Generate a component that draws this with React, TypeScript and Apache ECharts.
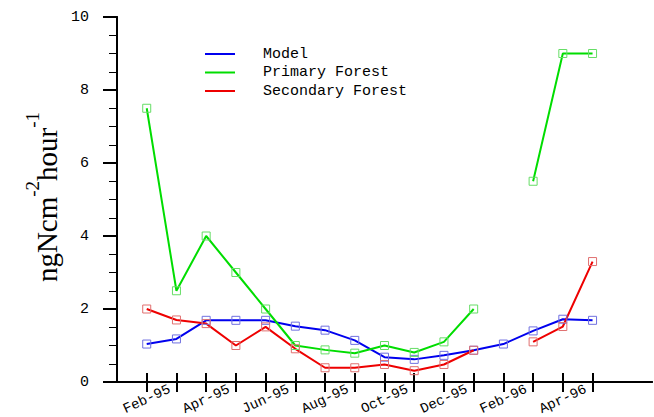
import React, { useEffect, useRef } from "react";
import * as echarts from "echarts";

const monthLabels = [
  "Feb-95", "Mar-95", "Apr-95", "May-95", "Jun-95", "Jul-95", "Aug-95", "Sep-95",
  "Oct-95", "Nov-95", "Dec-95", "Jan-96", "Feb-96", "Mar-96", "Apr-96", "May-96",
];
const modelValues = [1.04, 1.18, 1.69, 1.69, 1.69, 1.53, 1.42, 1.14, 0.68, 0.62, 0.73, 0.87, 1.04, 1.4, 1.72, 1.69];
const primaryValues: (number | null)[] = [7.5, 2.5, 4.0, 3.0, 2.0, 1.0, 0.88, 0.79, 1.0, 0.81, 1.1, 2.0, null, 5.5, 9.0, 9.0];
const secondaryValues: (number | null)[] = [2.0, 1.7, 1.6, 1.0, 1.51, 0.91, 0.39, 0.39, 0.48, 0.31, 0.48, 0.87, null, 1.1, 1.52, 3.3];

const FONT = "Liberation Mono";

function toData(vals: (number | null)[]) {
  return vals.map((v, i) => [i + 1, v === null ? "-" : v]);
}

const tickPositions = monthLabels.map((_, i) => i + 1);
const labelPositions = tickPositions.filter((_, i) => i % 2 === 0);

export default function App() {
  const ref = useRef<HTMLDivElement>(null);
  useEffect(() => {
    if (!ref.current) return;
    const chart = echarts.init(ref.current, null, { renderer: "svg" });
    const mkSeries = (name: string, vals: (number | null)[], line: string, mark: string) => ({
      name,
      type: "line",
      data: toData(vals),
      symbol: "rect",
      symbolSize: 8,
      showAllSymbol: true,
      connectNulls: false,
      lineStyle: { color: line, width: 2 },
      itemStyle: { color: "rgba(0,0,0,0)", borderColor: mark, borderWidth: 1 },
      emphasis: { disabled: true },
    });
    const legendItems = [
      { name: "Model", color: "#0000ee" },
      { name: "Primary Forest", color: "#00dd00" },
      { name: "Secondary Forest", color: "#ee0000" },
    ];
    const graphics: any[] = [];
    legendItems.forEach((it, i) => {
      const y = 54 + i * 18.5;
      graphics.push({
        type: "line",
        shape: { x1: 205, y1: y, x2: 235, y2: y },
        style: { stroke: it.color, lineWidth: 2 },
      });
      graphics.push({
        type: "text",
        x: 263,
        y,
        style: { text: it.name, font: `15px "${FONT}"`, fill: "#000", verticalAlign: "middle" },
      });
    });
    graphics.push({
      type: "text",
      x: 42,
      y: 197,
      rotation: Math.PI / 2,
      style: {
        text: "{a|ngNcm}{s|-2}{a|hour}{s|-1}",
        align: "center",
        verticalAlign: "middle",
        rich: {
          a: { fontFamily: "Liberation Serif", fontSize: 29, lineHeight: 38, verticalAlign: "bottom", fill: "#000" },
          s: { fontFamily: "Liberation Serif", fontSize: 19, lineHeight: 38, verticalAlign: "top", fill: "#000" },
        },
      },
    });
    chart.setOption({
      animation: false,
      grid: { left: 117, right: 2, top: 17, bottom: 35, containLabel: false, outerBoundsMode: "none" },
      xAxis: [
        {
          type: "value",
          min: 0,
          max: 18,
          interval: 1,
          position: "bottom",
          splitLine: { show: false },
          axisLine: { show: true, lineStyle: { color: "#000", width: 2 } },
          axisTick: { show: true, customValues: tickPositions, length: 10, inside: false, lineStyle: { color: "#000", width: 2 } },
          axisLabel: {
            show: true,
            customValues: labelPositions,
            formatter: (v: number) => monthLabels[Math.round(v) - 1] ?? "",
            rotate: 25,
            align: "center",
            verticalAlign: "middle",
            margin: 17,
            fontFamily: FONT,
            fontSize: 14,
            color: "#000",
          },
        },
        {
          type: "value",
          min: 0,
          max: 18,
          interval: 1,
          position: "top",
          splitLine: { show: false },
          axisLine: { show: true, lineStyle: { color: "#000", width: 2 } },
          axisTick: { show: true, customValues: tickPositions, length: 9, inside: false, lineStyle: { color: "#000", width: 2 } },
          axisLabel: { show: false },
        },
      ],
      yAxis: [
        {
          type: "value",
          min: 0,
          max: 10,
          interval: 2,
          position: "left",
          splitLine: { show: false },
          axisLine: { show: true, lineStyle: { color: "#000", width: 2 } },
          axisTick: { show: true, length: 14, inside: false, lineStyle: { color: "#000", width: 2 } },
          minorTick: { show: true, splitNumber: 4, length: 8, lineStyle: { color: "#000", width: 1 } },
          axisLabel: { margin: 28, fontFamily: FONT, fontSize: 15, color: "#000" },
        },
        {
          type: "value",
          min: 0,
          max: 10,
          interval: 2,
          position: "right",
          splitLine: { show: false },
          axisLine: { show: true, lineStyle: { color: "#000", width: 2 } },
          axisTick: { show: false },
          axisLabel: { show: false },
        },
      ],
      series: [
        mkSeries("Model", modelValues, "#0000ee", "#7070e0"),
        mkSeries("Primary Forest", primaryValues, "#00dd00", "#66dd66"),
        mkSeries("Secondary Forest", secondaryValues, "#ee0000", "#e07070"),
      ],
      graphic: graphics,
    });
    return () => chart.dispose();
  }, []);
  return <div ref={ref} style={{ width: 654, height: 417, position: "absolute", left: 0, top: 0, background: "#fff" }} />;
}
